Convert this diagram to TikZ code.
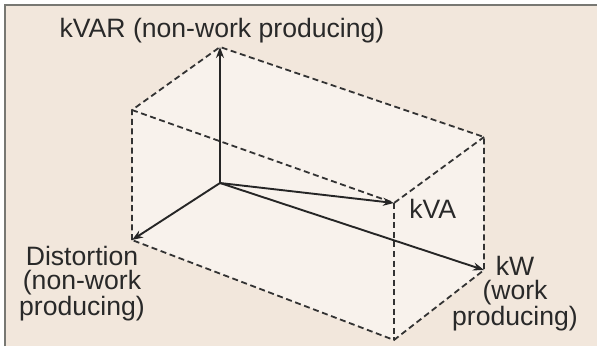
\documentclass[tikz,border=0pt]{standalone}
\usepackage{fontspec}
\setmainfont{Liberation Sans}
\usetikzlibrary{arrows.meta}
\definecolor{powerboxbg}{rgb}{0.949,0.906,0.863}
\definecolor{powerboxface}{rgb}{0.973,0.949,0.925}
\definecolor{powerboxframe}{rgb}{0.47,0.47,0.45}
\definecolor{powerboxedge}{rgb}{0.2,0.2,0.2}
\definecolor{powerboxtext}{rgb}{0.16,0.16,0.16}

\begin{document}
\begin{tikzpicture}[x=0.5pt,y=-0.5pt,
  boxedge/.style={powerboxedge,line width=0.9pt,dash pattern=on 3pt off 1.8pt},
  vecarrow/.style={black!85,line width=0.95pt,-{Stealth[length=5.5pt,width=4pt]}},
  vectext/.style={powerboxtext,inner sep=0pt,align=center,font=\fontsize{13.3}{11.75}\selectfont}]
\useasboundingbox (0,0) rectangle (597,349);
\fill[white] (0,0) rectangle (597,349);
\fill[powerboxbg] (5,5) rectangle (597,346);
\draw[powerboxframe,line width=1pt] (5,346) -- (5,5) -- (597,5);
\coordinate (origin) at (220,183);
\coordinate (topback) at (220,47);
\coordinate (topleft) at (132,110);
\coordinate (distort) at (132,240);
\coordinate (topright) at (484,137);
\coordinate (kva) at (394,203);
\coordinate (kw) at (484,270);
\coordinate (botfront) at (394,340);
\fill[powerboxface] (topleft) -- (topback) -- (topright) -- (kw) -- (botfront) -- (distort) -- cycle;
\draw[boxedge] (distort) -- (topleft) -- (topback) -- (topright) -- (kw) -- (botfront) -- (distort);
\draw[boxedge] (topleft) -- (kva) -- (topright);
\draw[boxedge] (kva) -- (botfront);
\draw[vecarrow] (origin) -- (topback);
\draw[vecarrow] (origin) -- (distort);
\draw[vecarrow] (origin) -- (kva);
\draw[vecarrow] (origin) -- (kw);
\node[vectext,anchor=base] (kvarlabel) at (222,37) {kVAR (non-work producing)};
\node[vectext,anchor=north] (distortlabel) at (82,246) {Distortion\\(non-work\\producing)};
\node[vectext,anchor=base west] (kvalabel) at (409,218) {kVA};
\node[vectext,anchor=north] (kwlabel) at (515,256) {kW\\(work\\producing)};
\end{tikzpicture}
\end{document}
